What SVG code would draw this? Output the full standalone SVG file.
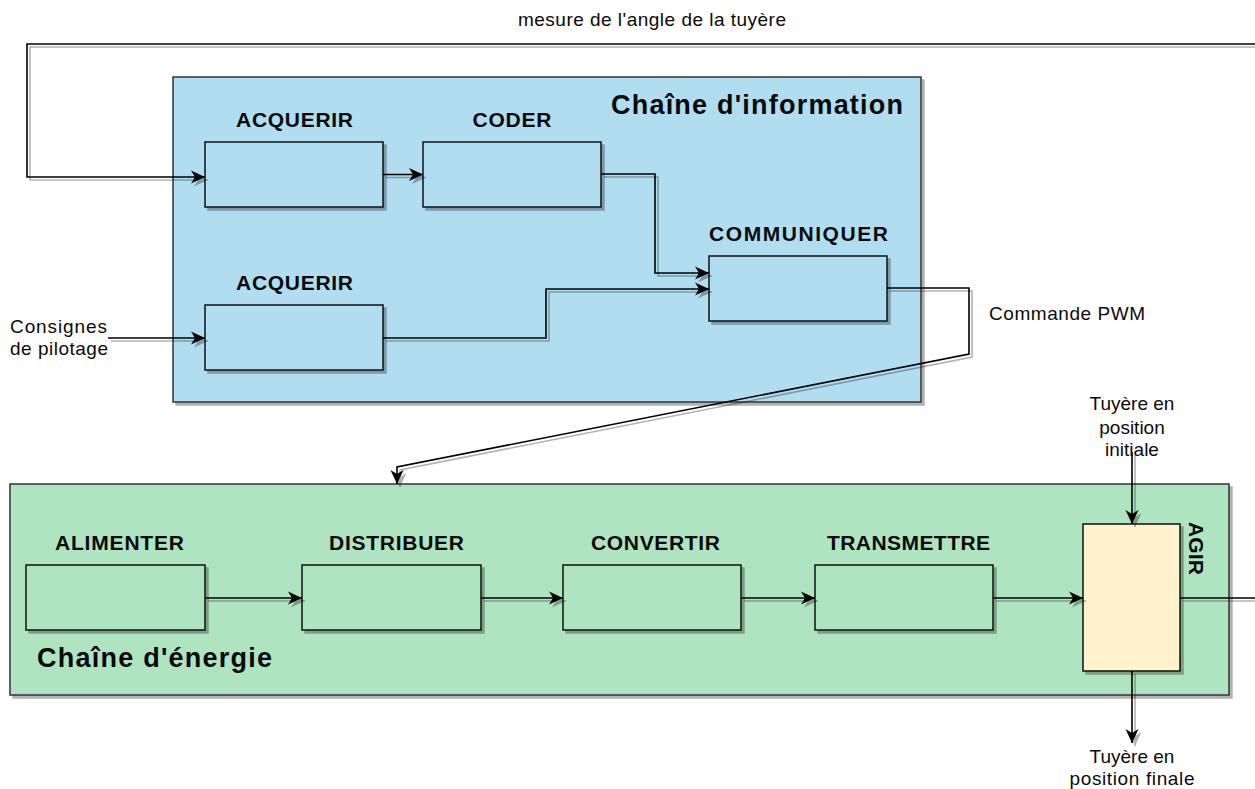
<svg xmlns="http://www.w3.org/2000/svg" width="1255" height="789" viewBox="0 0 1255 789">
  <defs>
    <filter id="shadow" x="-5%" y="-5%" width="115%" height="115%">
      <feDropShadow dx="3" dy="3" stdDeviation="0.6" flood-color="#000" flood-opacity="0.3"/>
    </filter>
    <filter id="lineShadow" x="0" y="0" width="1300" height="820" filterUnits="userSpaceOnUse">
      <feDropShadow dx="3" dy="3" stdDeviation="0.5" flood-color="#000" flood-opacity="0.3"/>
    </filter>
    <marker id="arrow" markerWidth="17" markerHeight="15" refX="14" refY="7" orient="auto" markerUnits="userSpaceOnUse">
      <path d="M0,0.5 L14,7 L0,13.5 L4,7 Z" fill="#000"/>
    </marker>
    <style>
      .container { stroke: #333; stroke-width: 1.5; filter: url(#shadow); }
      .info { fill: #b1ddf0; }
      .energy { fill: #afe4c0; }
      .box { stroke: #111; stroke-width: 1.5; filter: url(#shadow); }
      .agir { fill: #fff2cc; }
      .edge { fill: none; stroke: #000; stroke-width: 1.6; }
      .arrow { marker-end: url(#arrow); }
      text { font-family: "Liberation Sans", Arial, Helvetica, sans-serif; fill: #0a0a0a; }
      .title { font-size: 27px; font-weight: bold; }
      .label { font-size: 21px; font-weight: bold; text-anchor: middle; }
      .note { font-size: 19px; }
      .mid { text-anchor: middle; }
    </style>
  </defs>

  <!-- containers -->
  <g id="chaine-information">
    <rect class="container info" x="173" y="77" width="748" height="325"/>
    <text class="title" x="611" y="114" textLength="292">Chaîne d'information</text>
  </g>
  <g id="chaine-energie">
    <rect class="container energy" x="10" y="484" width="1219" height="211"/>
    <text class="title" x="37" y="667" textLength="235">Chaîne d'énergie</text>
  </g>

  <!-- information chain blocks -->
  <g id="acquerir-mesure">
    <rect class="box info" x="205" y="142" width="178" height="65"/>
    <text class="label" x="294.5" y="127" textLength="117">ACQUERIR</text>
  </g>
  <g id="coder">
    <rect class="box info" x="423" y="142" width="178" height="65"/>
    <text class="label" x="512" y="127" textLength="79">CODER</text>
  </g>
  <g id="communiquer">
    <rect class="box info" x="709" y="256" width="178" height="65"/>
    <text class="label" x="798.5" y="241" textLength="179">COMMUNIQUER</text>
  </g>
  <g id="acquerir-consignes">
    <rect class="box info" x="205" y="305" width="178" height="65"/>
    <text class="label" x="294.5" y="290" textLength="117">ACQUERIR</text>
  </g>

  <!-- energy chain blocks -->
  <g id="alimenter">
    <rect class="box energy" x="26" y="565" width="179" height="65"/>
    <text class="label" x="119.5" y="550" textLength="129">ALIMENTER</text>
  </g>
  <g id="distribuer">
    <rect class="box energy" x="302" y="565" width="179" height="65"/>
    <text class="label" x="396.5" y="550" textLength="135">DISTRIBUER</text>
  </g>
  <g id="convertir">
    <rect class="box energy" x="563" y="565" width="178" height="65"/>
    <text class="label" x="655.5" y="550" textLength="129">CONVERTIR</text>
  </g>
  <g id="transmettre">
    <rect class="box energy" x="815" y="565" width="178" height="65"/>
    <text class="label" x="908.5" y="550" textLength="163">TRANSMETTRE</text>
  </g>
  <g id="agir">
    <rect class="box agir" x="1083" y="524" width="97" height="147"/>
    <text class="label" transform="translate(1189,548.5) rotate(90)" x="0" y="0" textLength="53">AGIR</text>
  </g>

  <!-- connectors -->
  <g id="connectors" filter="url(#lineShadow)">
    <path class="edge arrow" d="M1255,44 H27 V177 H205"/>
    <path class="edge arrow" d="M383,174.5 H423"/>
    <path class="edge arrow" d="M601,174 H655 V273 H709"/>
    <path class="edge arrow" d="M383,338 H546 V289 H709"/>
    <path class="edge arrow" d="M108,338 H205"/>
    <path class="edge arrow" d="M887,288 H969 V354 L397,467 V484"/>
    <path class="edge arrow" d="M205,598 H302"/>
    <path class="edge arrow" d="M481,598 H563"/>
    <path class="edge arrow" d="M741,598 H815"/>
    <path class="edge arrow" d="M993,598 H1083"/>
    <path class="edge" d="M1180,598 H1255"/>
    <path class="edge arrow" d="M1132,452 V524"/>
    <path class="edge arrow" d="M1132,671 V743"/>
  </g>

  <!-- connector labels -->
  <g id="edge-labels">
    <text class="note" x="518" y="26" textLength="268">mesure de l'angle de la tuyère</text>
    <text class="note" x="989" y="320" textLength="156">Commande PWM</text>
    <text class="note" x="10" y="333" textLength="97">Consignes</text>
    <text class="note" x="10" y="355" textLength="98">de pilotage</text>
    <text class="note mid" x="1132" y="410">Tuyère en</text>
    <text class="note mid" x="1132" y="434">position</text>
    <text class="note mid" x="1132" y="456">initiale</text>
    <text class="note mid" x="1132" y="763">Tuyère en</text>
    <text class="note mid" x="1132" y="785" textLength="125">position finale</text>
  </g>
</svg>
